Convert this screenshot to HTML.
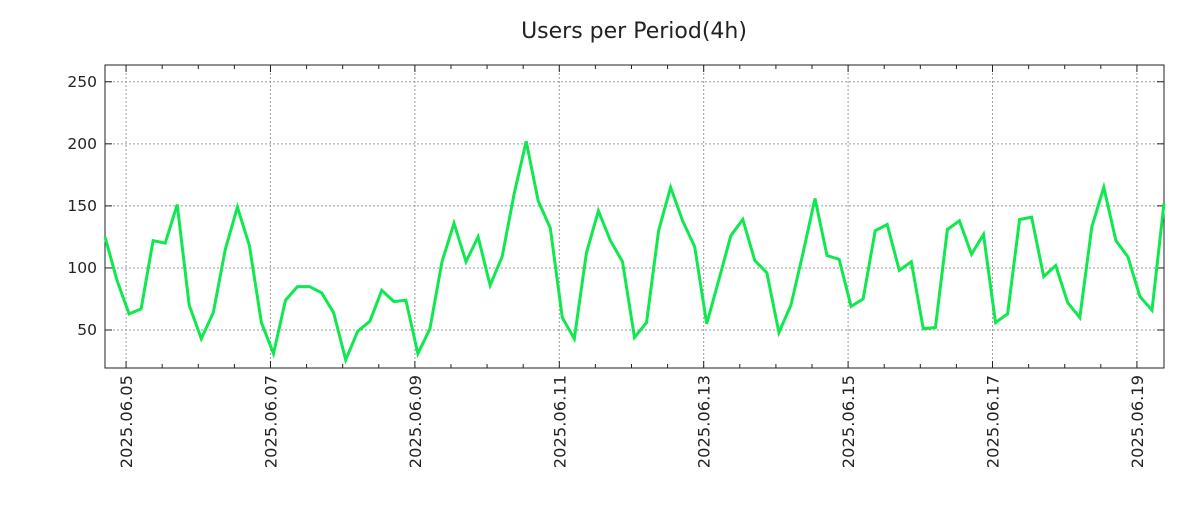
<!DOCTYPE html>
<html><head><meta charset="utf-8"><style>
body{margin:0;background:#fff;}
svg text{font-family:"DejaVu Sans","Liberation Sans",sans-serif;}
</style></head><body>
<svg width="1200" height="500" xmlns="http://www.w3.org/2000/svg">
<g id="root"></g>
</svg>
<script>
const values = [125,90,63,67,122,120,151,70,43,64,115,149,118,56,31,74,85,85,80,64,26,49,57,82,73,74,31,51,105,136,105,125,86,109,160,202,154,132,60,43,112,146,122,105,44,56,130,165,138,117,55,90,126,139,106,96,48,70,112,156,110,107,69,75,130,135,98,105,51,52,131,138,111,127,56,63,139,141,93,102,72,60,133,165,122,109,77,66,152];
const yTicks = [50,100,150,200,250];
const xTickLabels = ["2025.06.05","2025.06.07","2025.06.09","2025.06.11","2025.06.13","2025.06.15","2025.06.17","2025.06.19"];
const stepHours = 4;
const startOffsetHours = -7; // first sample relative to 2025.06.05 00:00

const L=105,R=1164,T=65,B=368;
const yMin=19.4,yMax=263.5;
const tStart=startOffsetHours, tEnd=startOffsetHours+(values.length-1)*stepHours;
const xs=t=>L+(t-tStart)/(tEnd-tStart)*(R-L);
const ys=v=>B-(v-yMin)/(yMax-yMin)*(B-T);
const NS="http://www.w3.org/2000/svg";
const root=document.getElementById('root');
function mk(tag,attrs,parent){const e=document.createElementNS(NS,tag);for(const k in attrs)e.setAttribute(k,attrs[k]);(parent||root).appendChild(e);return e;}

const title=mk('text',{x:634,y:38,'text-anchor':'middle','font-size':22,fill:'#222'});
title.textContent='Users per Period(4h)';



const grid=mk('g',{});


yTicks.forEach(v=>{
  const y=ys(v);
  mk('line',{x1:L,x2:R,y1:y,y2:y,stroke:'#999','stroke-dasharray':'2,2','stroke-width':1},grid);
  mk('line',{x1:L,x2:L+7,y1:y,y2:y,stroke:'#222'},grid);
  mk('line',{x1:R-7,x2:R,y1:y,y2:y,stroke:'#222'},grid);
  const t=mk('text',{x:L-8,y:y+5,'text-anchor':'end','font-size':15.5,fill:'#222'});
  t.textContent=v;
  
  
});
for(let h=-12;h<=tEnd;h+=12){
  if(h<tStart)continue;
  const x=xs(h);
  const major=(h%48===0);
  if(major) mk('line',{x1:x,x2:x,y1:T,y2:B,stroke:'#999','stroke-dasharray':'2,2','stroke-width':1},grid);
  const len=major?7:4;
  mk('line',{x1:x,x2:x,y1:B-len,y2:B,stroke:'#222'},grid);
  mk('line',{x1:x,x2:x,y1:T,y2:T+len,stroke:'#222'},grid);
}
xTickLabels.forEach((lab,i)=>{
  const x=xs(i*48);
  const t=mk('text',{x:0,y:0,'text-anchor':'end','font-size':16.3,fill:'#222',transform:`translate(${x+6},${B+7}) rotate(-90)`});
  t.textContent=lab;
  
  
});
const frame=mk('rect',{x:L,y:T,width:R-L,height:B-T,fill:'none',stroke:'#222','stroke-width':1});



const d=values.map((v,i)=>(i?'L':'M')+xs(tStart+i*stepHours).toFixed(1)+','+ys(v).toFixed(1)).join(' ');
const line=mk('path',{d:d,fill:'none',stroke:'#10e850','stroke-width':3,'stroke-linejoin':'miter'});


</script>
</body></html>
